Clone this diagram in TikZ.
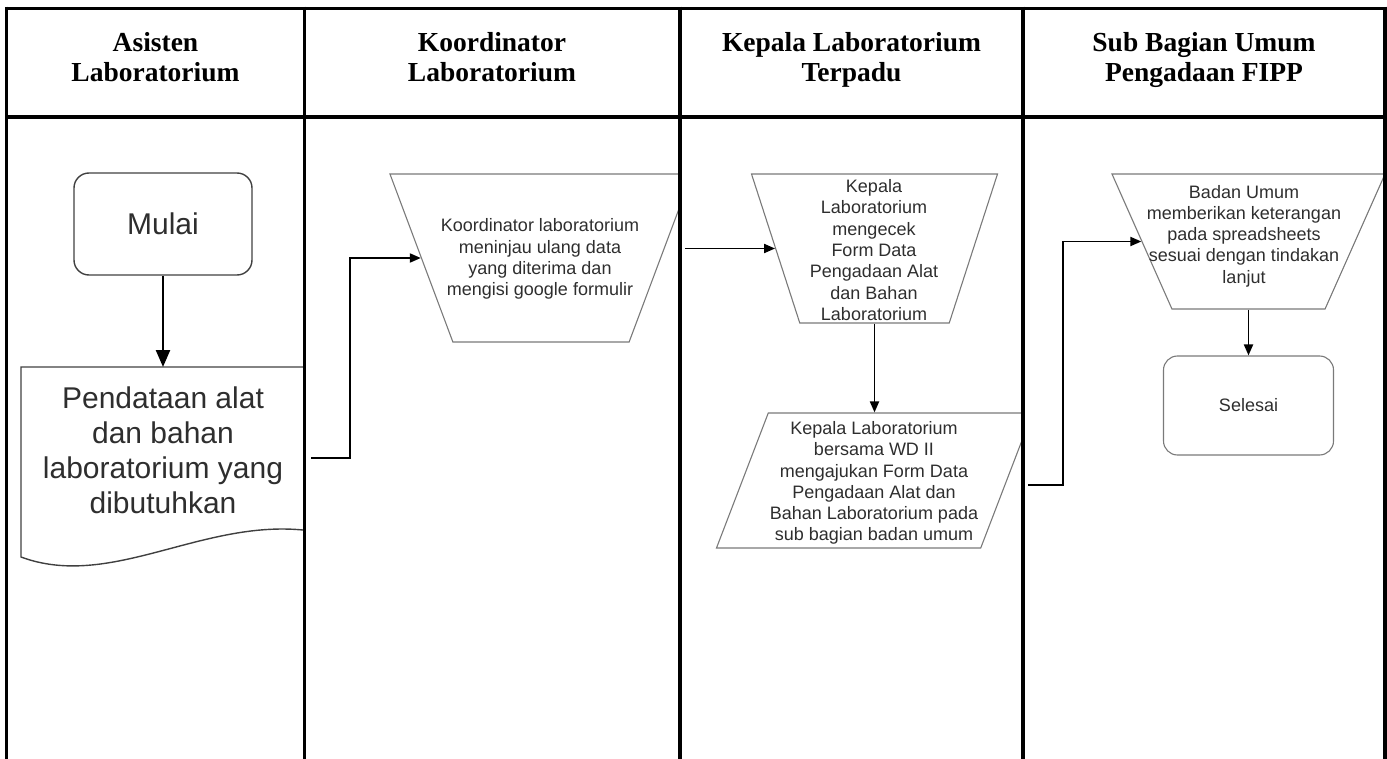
\documentclass[tikz,border=0pt]{standalone}
\usepackage{fontspec}
\setmainfont{Liberation Serif}
\newfontfamily\arialfont{Liberation Sans}
\usetikzlibrary{arrows.meta,shapes.geometric}

\begin{document}
\begin{tikzpicture}[x=1pt,y=-1pt,
  frame/.style={line width=3.5pt, black},
  hdr/.style={font=\fontsize{27.5}{30}\selectfont\bfseries, align=center, inner sep=0pt, anchor=north},
  bigtxt/.style={font=\arialfont\fontsize{30}{35}\selectfont, text=black!82, align=center, inner sep=0pt},
  bodytxt/.style={font=\arialfont\fontsize{18}{21.3}\selectfont, text=black!82, align=center, inner sep=0pt},
  darkline/.style={draw=black!75, line width=1.4pt},
  grayline/.style={draw=black!52, line width=1.1pt},
  inv/.style={trapezium, trapezium stretches=true, shape border rotate=180, inner sep=1pt},
  arr/.style={line width=1.9pt, -{Triangle[length=11pt,width=9pt]}},
  arrbig/.style={line width=2.4pt, -{Triangle[length=17pt,width=14pt]}},
]
\useasboundingbox (0,0) rectangle (1387,759);

% lane 1: Asisten Laboratorium
\begin{scope}
  \clip (6.7,117) rectangle (304.5,759);
  \node[darkline, bigtxt, rounded corners=15pt, minimum width=178pt, minimum height=102pt] (mulai) at (163,224) {Mulai};
  \node[bigtxt, minimum width=284pt, minimum height=166pt, anchor=north] (pend) at (163,367)
    {Pendataan alat\\dan bahan\\laboratorium yang\\dibutuhkan};
  \draw[darkline] (330,367) -- (21,367) -- (21,557)
    .. controls (110,590) and (200,520) .. (303,530) -- (330,530);
\end{scope}

% lane 2: Koordinator Laboratorium
\begin{scope}
  \clip (304.5,117) rectangle (680,759);
  \node[inv, grayline, trapezium left angle=70.35, trapezium right angle=70.35,
        minimum width=302pt, minimum height=168pt] (koord) at (541,258) {};
  \node[bodytxt] (koordtxt) at (540,259)
    {Koordinator laboratorium\\meninjau ulang data\\yang diterima dan\\mengisi google formulir};
\end{scope}

% lane 3: Kepala Laboratorium Terpadu
\begin{scope}
  \clip (680,117) rectangle (1023,759);
  \node[inv, grayline, trapezium left angle=72.1, trapezium right angle=72.1,
        minimum width=246pt, minimum height=149pt] (kep) at (874.5,248.5) {};
  \node[bodytxt] (keptxt) at (874,250)
    {Kepala\\Laboratorium\\mengecek\\Form Data\\Pengadaan Alat\\dan Bahan\\Laboratorium};
  \node[trapezium, trapezium stretches=true, inner sep=1pt, grayline,
        trapezium left angle=76.3, trapezium right angle=103.7,
        minimum width=316pt, minimum height=135pt] (kep2) at (874.5,480.5) {};
  \node[bodytxt] (kep2txt) at (874,483)
    {Kepala Laboratorium\\bersama WD II\\mengajukan Form Data\\Pengadaan Alat dan\\Bahan Laboratorium pada\\sub bagian badan umum};
\end{scope}

% lane 4: Sub Bagian Umum Pengadaan FIPP
\begin{scope}
  \clip (1023,117) rectangle (1385.2,759);
  \node[inv, grayline, trapezium left angle=68.6, trapezium right angle=68.6,
        minimum width=273pt, minimum height=135pt] (badan) at (1248.5,241.5) {};
  \node[bodytxt] (badantxt) at (1244,236)
    {Badan Umum\\memberikan keterangan\\pada spreadsheets\\sesuai dengan tindakan\\lanjut};
  \node[grayline, bodytxt, rounded corners=14pt, minimum width=170pt, minimum height=99pt] (sel) at (1248.5,405.5) {Selesai};
\end{scope}

% flow
\coordinate (c1) at (311,458);
\coordinate (c2) at (685,248.5);
\coordinate (c3) at (1028,485);
\draw[arrbig] (mulai) -- (pend);
\draw[arr] (c1) -- ++(39,0) |- (koord);
\draw[arr] (c2) -- (kep);
\draw[arr] (kep) -- (kep2);
\draw[arr] (c3) -- ++(35,0) |- (badan);
\draw[arr] (badan) -- (sel);

% table frame
\draw[frame] (5,8.3) -- (1387,8.3);
\draw[frame] (5,117) -- (1387,117);
\foreach \lx in {6.7,304.5,680,1023,1385.2}
  \draw[frame] (\lx,6.6) -- (\lx,759);

% lane headers
\node[hdr] (h1) at (155.5,32) {Asisten\\Laboratorium};
\node[hdr] (h2) at (492,32) {Koordinator\\Laboratorium};
\node[hdr] (h3) at (851.5,32) {Kepala Laboratorium\\Terpadu};
\node[hdr] (h4) at (1204,32) {Sub Bagian Umum\\Pengadaan FIPP};
\end{tikzpicture}
\end{document}
